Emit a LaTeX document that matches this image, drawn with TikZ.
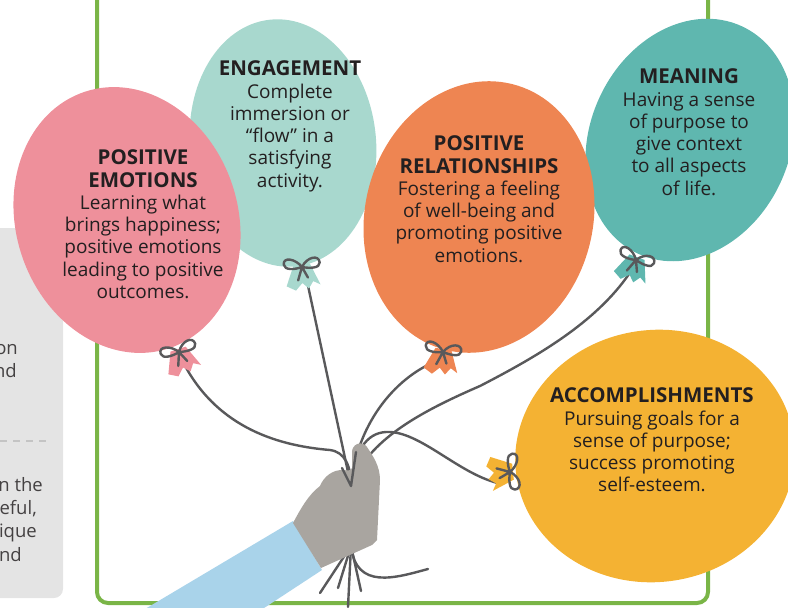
\documentclass[tikz,border=0pt]{standalone}
\usepackage{fontspec}
\setmainfont{Open Sans}
\definecolor{pinkc}{HTML}{EE909B}
\definecolor{mintc}{HTML}{A8D8CE}
\definecolor{orangec}{HTML}{EE8552}
\definecolor{tealc}{HTML}{5FB7AF}
\definecolor{yellowc}{HTML}{F4B233}
\definecolor{framec}{HTML}{7AB547}
\definecolor{panelc}{HTML}{E4E4E4}
\definecolor{dashc}{HTML}{C4C4C4}
\definecolor{inkc}{HTML}{231F20}
\definecolor{stringc}{HTML}{59595B}
\definecolor{handc}{HTML}{A9A5A0}
\definecolor{sleevec}{HTML}{A9D3EA}
% bold heading line inside a balloon
\newcommand\balloonhead[1]{{\fontsize{20.5}{22.3}\selectfont\bfseries #1}}
\begin{document}
\begin{tikzpicture}[x=1pt,y=-1pt,
  balloontext/.style={align=center, inner sep=0pt, anchor=north, text=inkc,
    font=\fontsize{19}{22.3}\selectfont},
  paneltext/.style={inner sep=0pt, anchor=base east, text=inkc!85,
    font=\fontsize{18.5}{22.3}\selectfont},
  stringline/.style={draw=stringc, line width=2.4pt, line cap=round, line join=round},
  pics/knot/.style={code={
    % balloon neck with a ragged edge
    \fill[#1] (-8,-3) -- (8,-3) -- (17,19) -- (10,15) -- (5,22) -- (-1,16) -- (-8,23) -- (-17,18) -- cycle;
    % bow: two loops and two short tails
    \draw[stringc, line width=2.4pt, line cap=round, line join=round]
      (0,0) .. controls (-6,-9) and (-18,-12) .. (-18,-4) .. controls (-18,2) and (-7,2) .. (0,0)
      .. controls (6,-10) and (18,-11) .. (18,-3) .. controls (18,3) and (7,2) .. (0,0)
      (0,0) -- (-5,13) (0,0) -- (5,11);
  }}
]
\useasboundingbox (0,0) rectangle (788,608);

% side panel with its cut-off text
\fill[panelc, rounded corners=9pt] (-20,228) -- (63,228) -- (63,598) -- (-20,598) -- cycle;
\draw[dashc, line width=1.6pt, dash pattern=on 7pt off 6pt] (0,441) -- (50,441);
\node[paneltext] (p1) at (18,354) {on};
\node[paneltext] (p2) at (17,377) {nd};
\node[paneltext] (p3) at (43,491) {n the};
\node[paneltext] (p4) at (37,514) {eful,};
\node[paneltext] (p5) at (37,537) {ique};
\node[paneltext] (p6) at (22,561) {nd};

% green frame
\draw[framec, line width=4pt, rounded corners=11pt] (97,-10) -- (97,603) -- (708,603) -- (708,-10);

% balloons
\fill[mintc, rotate around={6:(283,143)}] (283,143) ellipse [x radius=93pt, y radius=124pt];
\fill[tealc, rotate around={-24:(690,140)}] (690,140) ellipse [x radius=100pt, y radius=125pt];
\fill[pinkc, rotate around={18:(127,220)}] (127,220) ellipse [x radius=111pt, y radius=135pt];
\fill[orangec, rotate around={-14:(479,217)}] (479,217) ellipse [x radius=114pt, y radius=137pt];
\fill[yellowc, rotate around={8:(655,456)}] (655,456) ellipse [x radius=140pt, y radius=126pt];

% knot points and the grip
\coordinate (kPink) at (179,352);
\coordinate (kMint) at (302,267);
\coordinate (kOrange) at (443,352);
\coordinate (kTeal) at (636,260);
\coordinate (kYellow) at (510,472);
\coordinate (grip) at (351,486);
\coordinate (fist) at (351,546);

% strings below the hand
\draw[stringline] (fist) -- (320,593);
\draw[stringline] (fist) -- (338,588);
\draw[stringline] (fist) -- (348,607);
\draw[stringline] (fist) -- (361,591);
\draw[stringline] (fist) .. controls (356,590) and (395,578) .. (428,569);

% strings up to the balloons
\draw[stringline] (kPink) ++(4,10) .. controls (218,430) and (282,446) .. (330,450)
  .. controls (345,452) and (351,466) .. (grip);
\draw[stringline] (kMint) ++(5,14) -- (grip);
\draw[stringline] (kOrange) ++(-4,8) .. controls (392,378) and (356,428) .. (grip);
\draw[stringline] (kTeal) ++(-3,8) .. controls (600,320) and (540,355) .. (480,386)
  .. controls (420,412) and (368,440) .. (grip);
\draw[stringline] (kYellow) ++(-8,12) .. controls (460,476) and (420,430) .. (386,432)
  .. controls (366,433) and (354,452) .. (grip);

% knots
\pic[rotate=18] at (kPink) {knot=pinkc};
\pic[rotate=5] at (kMint) {knot=mintc};
\pic[rotate=-8] at (kOrange) {knot=orangec};
\pic[rotate=-20] at (kTeal) {knot=tealc};
\pic[rotate=-84] at (kYellow) {knot=yellowc};

% sleeve and hand
\fill[sleevec] (140,612) -- (293,521) -- (322,570) -- (258,612) -- cycle;
\fill[handc] (293,523) .. controls (300,510) and (308,495) .. (320,486)
  .. controls (324,476) and (333,470) .. (342,470)
  .. controls (347,470) and (350,472) .. (352,468) -- (352,452)
  .. controls (352,444) and (362,440) .. (367,447)
  .. controls (373,456) and (380,466) .. (380,480) -- (377,540) -- (372,545) -- (321,568) -- cycle;
\draw[stringline] (342,468) -- (grip) (356,452) -- (grip);

% balloon texts
\node[balloontext] (emo) at (143,149.7) {\balloonhead{POSITIVE}\\\balloonhead{EMOTIONS}\\Learning what\\brings happiness;\\positive emotions\\leading to positive\\outcomes.};
\node[balloontext] (eng) at (290,60.7) {\balloonhead{ENGAGEMENT}\\Complete\\immersion or\\“flow” in a\\satisfying\\activity.};
\node[balloontext] (rel) at (479,135.7) {\balloonhead{POSITIVE}\\\balloonhead{RELATIONSHIPS}\\Fostering a feeling\\of well-being and\\promoting positive\\emotions.};
\node[balloontext] (mea) at (689,68.7) {\balloonhead{MEANING}\\Having a sense\\of purpose to\\give context\\to all aspects\\of life.};
\node[balloontext] (acc) at (652,387.7) {\balloonhead{ACCOMPLISHMENTS}\\Pursuing goals for a\\sense of purpose;\\success promoting\\self-esteem.};
\end{tikzpicture}
\end{document}
